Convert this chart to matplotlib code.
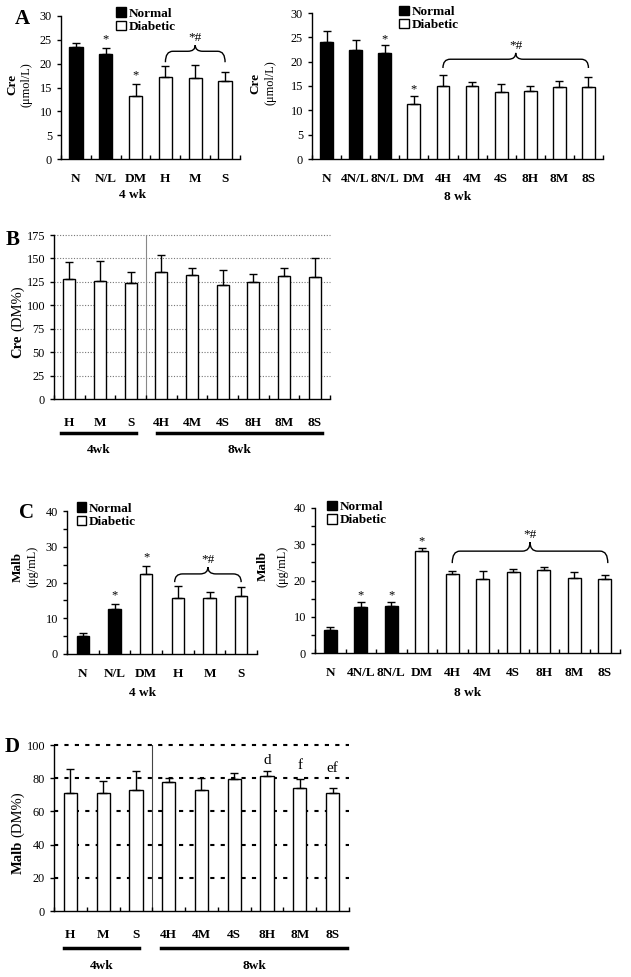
import numpy as np
import matplotlib
matplotlib.use('Agg')
import matplotlib.pyplot as plt
from matplotlib.patches import Patch, PathPatch
from matplotlib.path import Path
import matplotlib.transforms as mtransforms

plt.rcParams['font.family'] = ['Liberation Serif', 'DejaVu Serif']
plt.rcParams['axes.linewidth'] = 1.0

# ---- data ----
# panel A, 4 wk
a4_cats = ['N', 'N/L', 'DM', 'H', 'M', 'S']
a4_vals = [23.5, 22.0, 13.3, 17.1, 16.9, 16.4]
a4_errs = [0.8, 1.3, 2.4, 2.5, 2.9, 1.8]
a4_normal = [True, True, False, False, False, False]
a4_stars = ['', '*', '*', '', '', '']

# panel A, 8 wk
a8_cats = ['N', '4N/L', '8N/L', 'DM', '4H', '4M', '4S', '8H', '8M', '8S']
a8_vals = [24.1, 22.3, 21.8, 11.3, 15.1, 14.9, 13.8, 14.0, 14.7, 14.7]
a8_errs = [2.1, 2.2, 1.6, 1.7, 2.2, 0.9, 1.7, 1.0, 1.3, 2.2]
a8_normal = [True, True, True, False, False, False, False, False, False, False]
a8_stars = ['', '', '*', '*', '', '', '', '', '', '']

# panel B, Cre as % of DM
b_cats = ['H', 'M', 'S', '4H', '4M', '4S', '8H', '8M', '8S']
b_vals = [127.7, 126.3, 123.8, 135.2, 132.7, 121.3, 124.9, 131.3, 129.8]
b_errs = [18.5, 21.3, 11.4, 18.8, 6.8, 16.0, 8.9, 8.2, 20.3]

# panel C, 4 wk
c4_cats = ['N', 'N/L', 'DM', 'H', 'M', 'S']
c4_vals = [5.0, 12.6, 22.3, 15.6, 15.6, 16.3]
c4_errs = [0.8, 1.4, 2.2, 3.3, 1.7, 2.4]
c4_normal = [True, True, False, False, False, False]
c4_stars = ['', '*', '*', '', '', '']

# panel C, 8 wk
c8_cats = ['N', '4N/L', '8N/L', 'DM', '4H', '4M', '4S', '8H', '8M', '8S']
c8_vals = [6.3, 12.8, 13.1, 28.2, 21.7, 20.4, 22.3, 22.9, 20.7, 20.4]
c8_errs = [1.0, 1.4, 1.1, 0.9, 0.8, 2.1, 0.8, 0.7, 1.6, 1.2]
c8_normal = [True, True, True, False, False, False, False, False, False, False]
c8_stars = ['', '*', '*', '*', '', '', '', '', '', '']

# panel D, Malb as % of DM
d_cats = ['H', 'M', 'S', '4H', '4M', '4S', '8H', '8M', '8S']
d_vals = [70.8, 70.8, 73.0, 77.7, 73.0, 79.7, 81.1, 73.8, 70.8]
d_errs = [14.9, 7.5, 11.1, 2.6, 7.1, 3.6, 3.0, 5.7, 3.0]
d_marks = ['', '', '', '', '', '', 'd', 'f', 'ef']


def bars(ax, cats, vals, errs, normal=None, bw=0.43):
    n = len(cats)
    x = np.arange(n)
    if normal is None:
        normal = [False] * n
    colors = ['black' if k else 'white' for k in normal]
    ax.bar(x, vals, width=bw, color=colors, edgecolor='black', linewidth=1.0, zorder=3)
    ax.errorbar(x, vals, yerr=[np.zeros(n), errs], fmt='none', ecolor='black',
                elinewidth=1.0, capsize=3, capthick=1.0, zorder=4)
    ax.set_xlim(-0.5, n - 0.5)
    ax.set_xticks(x)
    ax.set_xticklabels(cats, fontweight='bold', fontsize=9.5)
    ax.set_xticks(np.arange(n + 1) - 0.5, minor=True)
    ax.tick_params(axis='x', which='major', length=0)
    ax.tick_params(axis='x', which='minor', direction='in', length=3, width=1)
    ax.tick_params(axis='y', which='both', direction='out', length=3, width=1, labelsize=8.8)
    ax.spines['top'].set_visible(False)
    ax.spines['right'].set_visible(False)


def stars(ax, vals, errs, labels, off=2, size=9):
    for i, s in enumerate(labels):
        if s:
            o = off[s] if isinstance(off, dict) else off
            ax.annotate(s, (i, vals[i] + errs[i]), xytext=(0, o), textcoords='offset points',
                        ha='center', va='bottom', fontsize=size, zorder=6)


def brace(ax, x0, x1, y_end, y_mid, y_tip, label):
    xm = (x0 + x1) / 2
    d = 0.25
    verts = [(x0, y_end), (x0, y_mid), (x0 + d, y_mid),
             (xm - d, y_mid),
             (xm, y_mid), (xm, y_tip),
             (xm, y_mid), (xm + d, y_mid),
             (x1 - d, y_mid),
             (x1, y_mid), (x1, y_end)]
    codes = [Path.MOVETO, Path.CURVE3, Path.CURVE3,
             Path.LINETO,
             Path.CURVE3, Path.CURVE3,
             Path.CURVE3, Path.CURVE3,
             Path.LINETO,
             Path.CURVE3, Path.CURVE3]
    ax.add_patch(PathPatch(Path(verts, codes), fill=False, lw=1.0, edgecolor='black', zorder=5))
    ax.annotate(label, (xm, y_tip), xytext=(0, 1), textcoords='offset points',
                ha='center', va='bottom', fontsize=9.5)


def legend(ax, x, y):
    h = [Patch(facecolor='black', edgecolor='black', label='Normal'),
         Patch(facecolor='white', edgecolor='black', label='Diabetic')]
    ax.legend(handles=h, loc='upper left', bbox_to_anchor=(x, y), frameon=False,
              prop={'weight': 'bold', 'size': 9.5}, handlelength=0.75, handleheight=0.75,
              handletextpad=0.2, labelspacing=0.05, borderpad=0, borderaxespad=0)


def two_ylabels(ax, main, unit, xm, xu, y, fs_main=9.5, fs_unit=8.8):
    ax.text(xm, y, main, transform=ax.transAxes, rotation=90, ha='center', va='center',
            fontweight='bold', fontsize=fs_main)
    ax.text(xu, y, unit, transform=ax.transAxes, rotation=90, ha='center', va='center',
            fontsize=fs_unit)


def group_lines(ax, spans, names, y_line, y_text):
    tr = mtransforms.blended_transform_factory(ax.transData, ax.transAxes)
    for (s0, s1), nm in zip(spans, names):
        ax.plot([s0, s1], [y_line, y_line], color='black', lw=2.5, transform=tr, clip_on=False)
        ax.text((s0 + s1) / 2, y_text, nm, transform=tr, ha='center', va='center',
                fontweight='bold', fontsize=9.5)


W, H = 631, 977
fig = plt.figure(figsize=(W / 100, H / 100), dpi=100)


def px_axes(x0, x1, ytop, ybot):
    return fig.add_axes([x0 / W, 1 - ybot / H, (x1 - x0) / W, (ybot - ytop) / H])


# ---- panel A left ----
ax = px_axes(61, 240, 16, 159)
bars(ax, a4_cats, a4_vals, a4_errs, a4_normal, bw=0.45)
ax.set_ylim(0, 30)
ax.set_yticks(range(0, 31, 5))
ax.tick_params(axis='x', pad=10)
stars(ax, a4_vals, a4_errs, a4_stars)
top = max(np.add(a4_vals, a4_errs)[3:])
brace(ax, 3, 5, top + 0.5, top + 2.8, top + 4.1, '*#')
legend(ax, 0.31, 1.06)
two_ylabels(ax, 'Cre', '(μmol/L)', -0.274, -0.19, 0.52)
ax.text(0.4, -0.252, '4 wk', transform=ax.transAxes, ha='center', va='center',
        fontweight='bold', fontsize=9.5)

# ---- panel A right ----
ax = px_axes(312, 603, 13, 159)
bars(ax, a8_cats, a8_vals, a8_errs, a8_normal, bw=0.44)
ax.set_ylim(0, 30)
ax.set_yticks(range(0, 31, 5))
ax.tick_params(axis='x', pad=10)
stars(ax, a8_vals, a8_errs, a8_stars, off=0)
top = max(np.add(a8_vals, a8_errs)[4:])
brace(ax, 4, 9, top + 1.4, top + 3.2, top + 4.5, '*#')
legend(ax, 0.30, 1.05)
two_ylabels(ax, 'Cre', '(μmol/L)', -0.196, -0.144, 0.52)
ax.text(0.5, -0.26, '8 wk', transform=ax.transAxes, ha='center', va='center',
        fontweight='bold', fontsize=9.5)

# ---- panel B ----
ax = px_axes(54, 330, 235, 399)
bars(ax, b_cats, b_vals, b_errs, bw=0.4)
ax.set_ylim(0, 175)
ax.set_yticks(range(0, 176, 25))
ax.tick_params(axis='x', pad=13)
for v in range(25, 176, 25):
    ax.axhline(v, color='#777777', lw=0.8, ls=(0, (1, 1.5)), zorder=1, clip_on=False)
ax.axvline(2.5, color='#888888', lw=0.8, zorder=1)
ax.text(-0.13, 0.32, 'Cre', transform=ax.transAxes, rotation=90, ha='center', va='center',
        fontweight='bold', fontsize=10.5)
ax.text(-0.13, 0.555, '(DM%)', transform=ax.transAxes, rotation=90, ha='center', va='center',
        fontsize=10.5)
group_lines(ax, [(-0.27, 2.17), (2.86, 8.24)], ['4wk', '8wk'], -0.207, -0.311)

# ---- panel C left ----
ax = px_axes(67, 257, 511, 654)
bars(ax, c4_cats, c4_vals, c4_errs, c4_normal, bw=0.39)
ax.set_ylim(0, 40)
ax.set_yticks(range(0, 41, 10))
ax.set_yticks(range(5, 40, 10), minor=True)
ax.tick_params(axis='x', pad=10)
stars(ax, c4_vals, c4_errs, c4_stars)
top = max(np.add(c4_vals, c4_errs)[3:])
brace(ax, 2.9, 5, top + 1.2, top + 3.5, top + 5.4, '*#')
legend(ax, 0.05, 1.06)
two_ylabels(ax, 'Malb', '(μg/mL)', -0.258, -0.184, 0.61)
ax.text(0.4, -0.273, '4 wk', transform=ax.transAxes, ha='center', va='center',
        fontweight='bold', fontsize=9.5)

# ---- panel C right ----
ax = px_axes(315, 620, 508, 653)
bars(ax, c8_cats, c8_vals, c8_errs, c8_normal, bw=0.42)
ax.set_ylim(0, 40)
ax.set_yticks(range(0, 41, 10))
ax.set_yticks(range(5, 40, 10), minor=True)
ax.tick_params(axis='x', pad=10)
stars(ax, c8_vals, c8_errs, c8_stars, off=0)
top = max(np.add(c8_vals, c8_errs)[4:])
brace(ax, 4, 9.1, top + 1.2, top + 4.5, top + 7.0, '*#')
legend(ax, 0.04, 1.05)
two_ylabels(ax, 'Malb', '(μg/mL)', -0.17, -0.108, 0.6)
ax.text(0.5, -0.276, '8 wk', transform=ax.transAxes, ha='center', va='center',
        fontweight='bold', fontsize=9.5)

# ---- panel D ----
ax = px_axes(54, 349, 745, 911)
bars(ax, d_cats, d_vals, d_errs, bw=0.4)
ax.set_ylim(0, 100)
ax.set_yticks(range(0, 101, 20))
ax.tick_params(axis='x', pad=13)
for v in range(20, 101, 20):
    ax.axhline(v, color='black', lw=1.5, ls=(0, (2, 3)), zorder=1, clip_on=False)
ax.axvline(2.5, color='#444444', lw=0.8, zorder=1)
stars(ax, d_vals, d_errs, d_marks, off={'d': 3, 'f': 5, 'ef': 10}, size=11)
ax.text(-0.122, 0.325, 'Malb', transform=ax.transAxes, rotation=90, ha='center', va='center',
        fontweight='bold', fontsize=10.5)
ax.text(-0.122, 0.584, '(DM%)', transform=ax.transAxes, rotation=90, ha='center', va='center',
        fontsize=10.5)
group_lines(ax, [(-0.19, 2.09), (2.76, 8.44)], ['4wk', '8wk'], -0.223, -0.331)

# panel letters
for lab, x, y in [('A', 22, 19), ('B', 13, 240), ('C', 27, 513), ('D', 12, 747)]:
    fig.text(x / W, 1 - y / H, lab, ha='center', va='center', fontweight='bold', fontsize=15)

fig.savefig('out.png', dpi=100)
